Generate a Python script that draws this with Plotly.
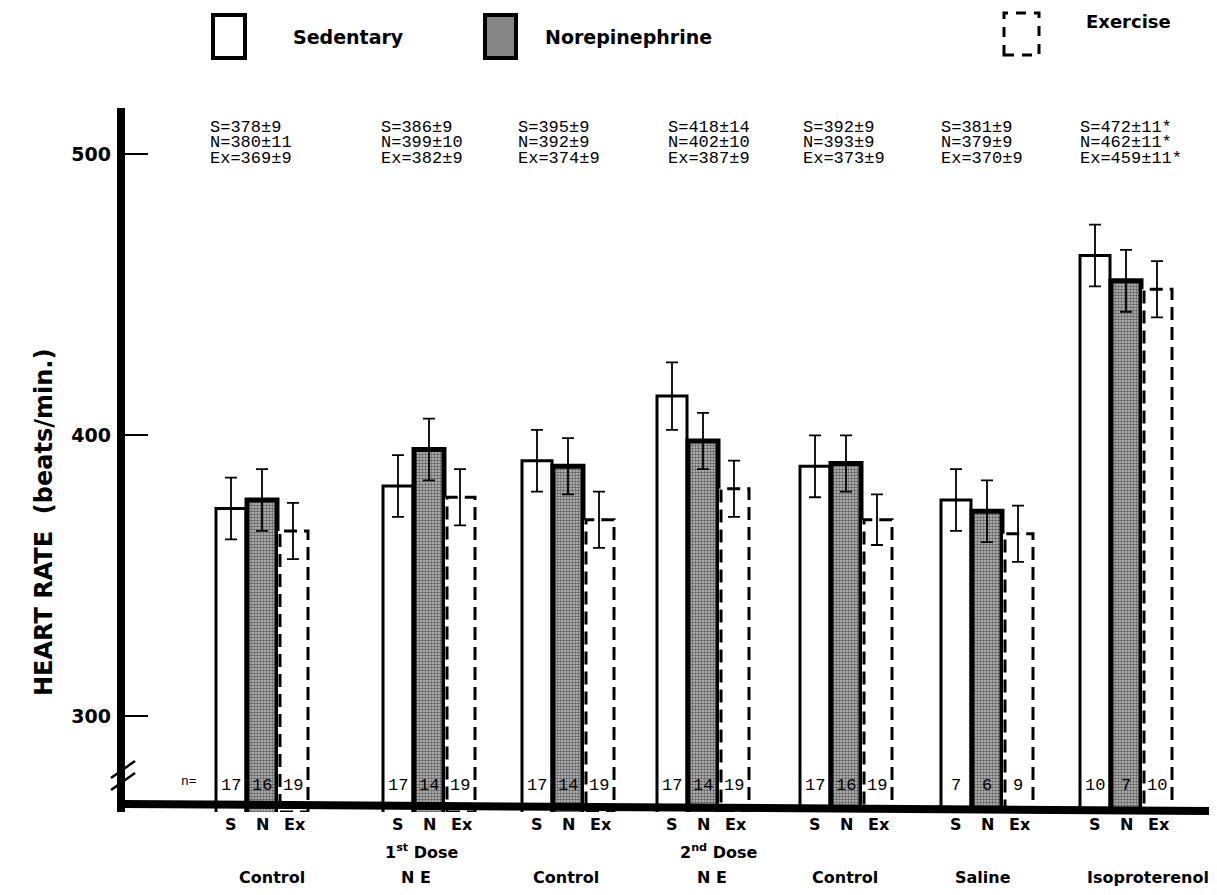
import plotly.graph_objects as go

# ---------------- data ----------------
groups = ["Control", "1<sup>st</sup> Dose<br>N E", "Control", "2<sup>nd</sup> Dose<br>N E",
          "Control", "Saline", "Isoproterenol"]
series_names = ["Sedentary", "Norepinephrine", "Exercise"]
sub_labels = ["S", "N", "Ex"]

sed_vals = [374, 382, 391, 414, 389, 377, 464]
nor_vals = [377, 395, 389, 398, 390, 373, 455]
exe_vals = [366, 378, 370, 381, 370, 365, 452]

sed_err = [11, 11, 11, 12, 11, 11, 11]
nor_err = [11, 11, 10, 10, 10, 11, 11]
exe_err = [10, 10, 10, 10, 9, 10, 10]

sed_n = [17, 17, 17, 17, 17, 7, 10]
nor_n = [16, 14, 14, 14, 16, 6, 7]
exe_n = [19, 19, 19, 19, 19, 9, 10]

sed_txt = ["S=378±9", "S=386±9", "S=395±9", "S=418±14", "S=392±9", "S=381±9", "S=472±11*"]
nor_txt = ["N=380±11", "N=399±10", "N=392±9", "N=402±10", "N=393±9", "N=379±9", "N=462±11*"]
exe_txt = ["Ex=369±9", "Ex=382±9", "Ex=374±9", "Ex=387±9", "Ex=373±9", "Ex=370±9", "Ex=459±11*"]

y_ticks = [300, 400, 500]
y_title = "HEART RATE\u00a0\u00a0(beats/min.)"

# ---------------- layout constants ----------------
W, H = 1217, 895
L, R, T, B = 113, 7, 100, 91
PW, PH = W - L - R, H - T - B
centers = [254, 421, 560, 695, 838, 979, 1118]   # group centre (pixel-like x units)
BW = 30
offsets = [-31, 0, 31]
txt_left = [200, 371, 508, 658, 793, 931, 1070]
grp_label_x = [264, 414, 558, 710, 837, 975, 1140]


def pxx(x):
    return (x - L) / PW


def pxy(y):
    return (H - B - y) / PH


MONO = "Liberation Mono"
SANS = "DejaVu Sans"

fig = go.Figure()

xs = [[c + o for c in centers] for o in offsets]

fig.add_trace(go.Bar(
    name=series_names[0], x=xs[0], y=sed_vals, width=BW,
    marker=dict(color="white", line=dict(color="black", width=3)),
    error_y=dict(type="data", array=sed_err, color="black", thickness=1.8, width=6),
    showlegend=False))
fig.add_trace(go.Bar(
    name=series_names[1], x=xs[1], y=nor_vals, width=BW,
    marker=dict(color="white", line=dict(color="black", width=5),
                pattern=dict(shape=".", fgcolor="black", bgcolor="#c4c4c4", size=3, solidity=0.55)),
    error_y=dict(type="data", array=nor_err, color="black", thickness=1.8, width=6),
    showlegend=False))
fig.add_trace(go.Bar(
    name=series_names[2], x=xs[2], y=exe_vals, width=BW,
    marker=dict(color="white", line=dict(color="white", width=0)),
    error_y=dict(type="data", array=exe_err, color="black", thickness=1.8, width=6),
    showlegend=False))

YMIN, YMAX = 266, 516.5

shapes = []
# dashed outlines of exercise bars (from data)
for x, v in zip(xs[2], exe_vals):
    shapes.append(dict(type="rect", xref="x", yref="y", x0=x - BW / 2 + 2, x1=x + BW / 2,
                       y0=YMIN, y1=v, line=dict(color="black", width=3, dash="13px,7px"),
                       layer="above"))
# axes (thick)
shapes.append(dict(type="line", xref="paper", yref="paper", x0=0, x1=0, y0=pxy(804), y1=1,
                   line=dict(color="black", width=8)))
shapes.append(dict(type="line", xref="paper", yref="paper", x0=0, x1=1, y0=pxy(796), y1=pxy(803),
                   line=dict(color="black", width=8)))
# axis break marks
for dy in (0, 12):
    shapes.append(dict(type="line", xref="paper", yref="paper", x0=pxx(103), x1=pxx(127),
                       y0=pxy(770 + dy), y1=pxy(753 + dy), line=dict(color="black", width=2.5)))

# legend boxes
shapes.append(dict(type="rect", xref="paper", yref="paper", x0=pxx(205), x1=pxx(237),
                   y0=pxy(50), y1=pxy(7), line=dict(color="black", width=4), fillcolor="white"))
shapes.append(dict(type="rect", xref="paper", yref="paper", x0=pxx(477), x1=pxx(508),
                   y0=pxy(50), y1=pxy(7), line=dict(color="black", width=4), fillcolor="#858585"))
shapes.append(dict(type="rect", xref="paper", yref="paper", x0=pxx(996), x1=pxx(1031),
                   y0=pxy(47), y1=pxy(5), line=dict(color="black", width=3, dash="10px,8px")))

ann = []


def A(x, y, text, size, family, xanchor="center", bold=False, **kw):
    ann.append(dict(x=pxx(x), y=pxy(y), xref="paper", yref="paper", text=text, showarrow=False,
                    xanchor=xanchor, yanchor="middle",
                    font=dict(size=size, family=family, color="black",
                              weight="bold" if bold else "normal"), **kw))


# stats text
for i in range(len(groups)):
    A(txt_left[i], 119, sed_txt[i], 17, MONO, xanchor="left")
    A(txt_left[i], 135, nor_txt[i], 17, MONO, xanchor="left")
    A(txt_left[i], 151, exe_txt[i], 17, MONO, xanchor="left")

# n labels
A(181, 773, "n=", 13, MONO)
for k, nn in enumerate([sed_n, nor_n, exe_n]):
    for i in range(len(groups)):
        A(xs[k][i], 777, str(nn[i]), 17, MONO)

# S N Ex labels
for k in range(3):
    for i in range(len(groups)):
        A(xs[k][i] + (2 if k == 2 else 0), 816, sub_labels[k], 16, SANS, bold=True)

# group labels
for i, g in enumerate(groups):
    if "<br>" in g:
        top, bot = g.split("<br>")
        A(grp_label_x[i], 843, top, 16, SANS, bold=True)
        A(grp_label_x[i] - 6, 869, bot, 16, SANS, bold=True)
    else:
        A(grp_label_x[i], 869, g, 16, SANS, bold=True)

# legend texts
A(283, 29, series_names[0], 19, SANS, xanchor="left", bold=True)
A(535, 29, series_names[1], 19, SANS, xanchor="left", bold=True)
A(1076, 13, series_names[2], 18, SANS, xanchor="left", bold=True)

# y title
A(36, 515, y_title, 24, SANS, bold=True, textangle=-90)

fig.update_layout(
    width=W, height=H, margin=dict(l=L, r=R, t=T, b=B),
    paper_bgcolor="white", plot_bgcolor="white",
    barmode="overlay", showlegend=False,
    shapes=shapes, annotations=ann,
    xaxis=dict(range=[L, W - R], showticklabels=False, showgrid=False, zeroline=False,
               showline=False, ticks=""),
    yaxis=dict(range=[YMIN, YMAX], tickvals=y_ticks, ticks="inside", ticklen=27, tickwidth=1.5,
               tickcolor="black", showgrid=False, zeroline=False, showline=False,
               tickfont=dict(family=SANS, size=19, color="black", weight="bold"),
               ticklabelstandoff=9),
)

fig.write_html("out.html")
